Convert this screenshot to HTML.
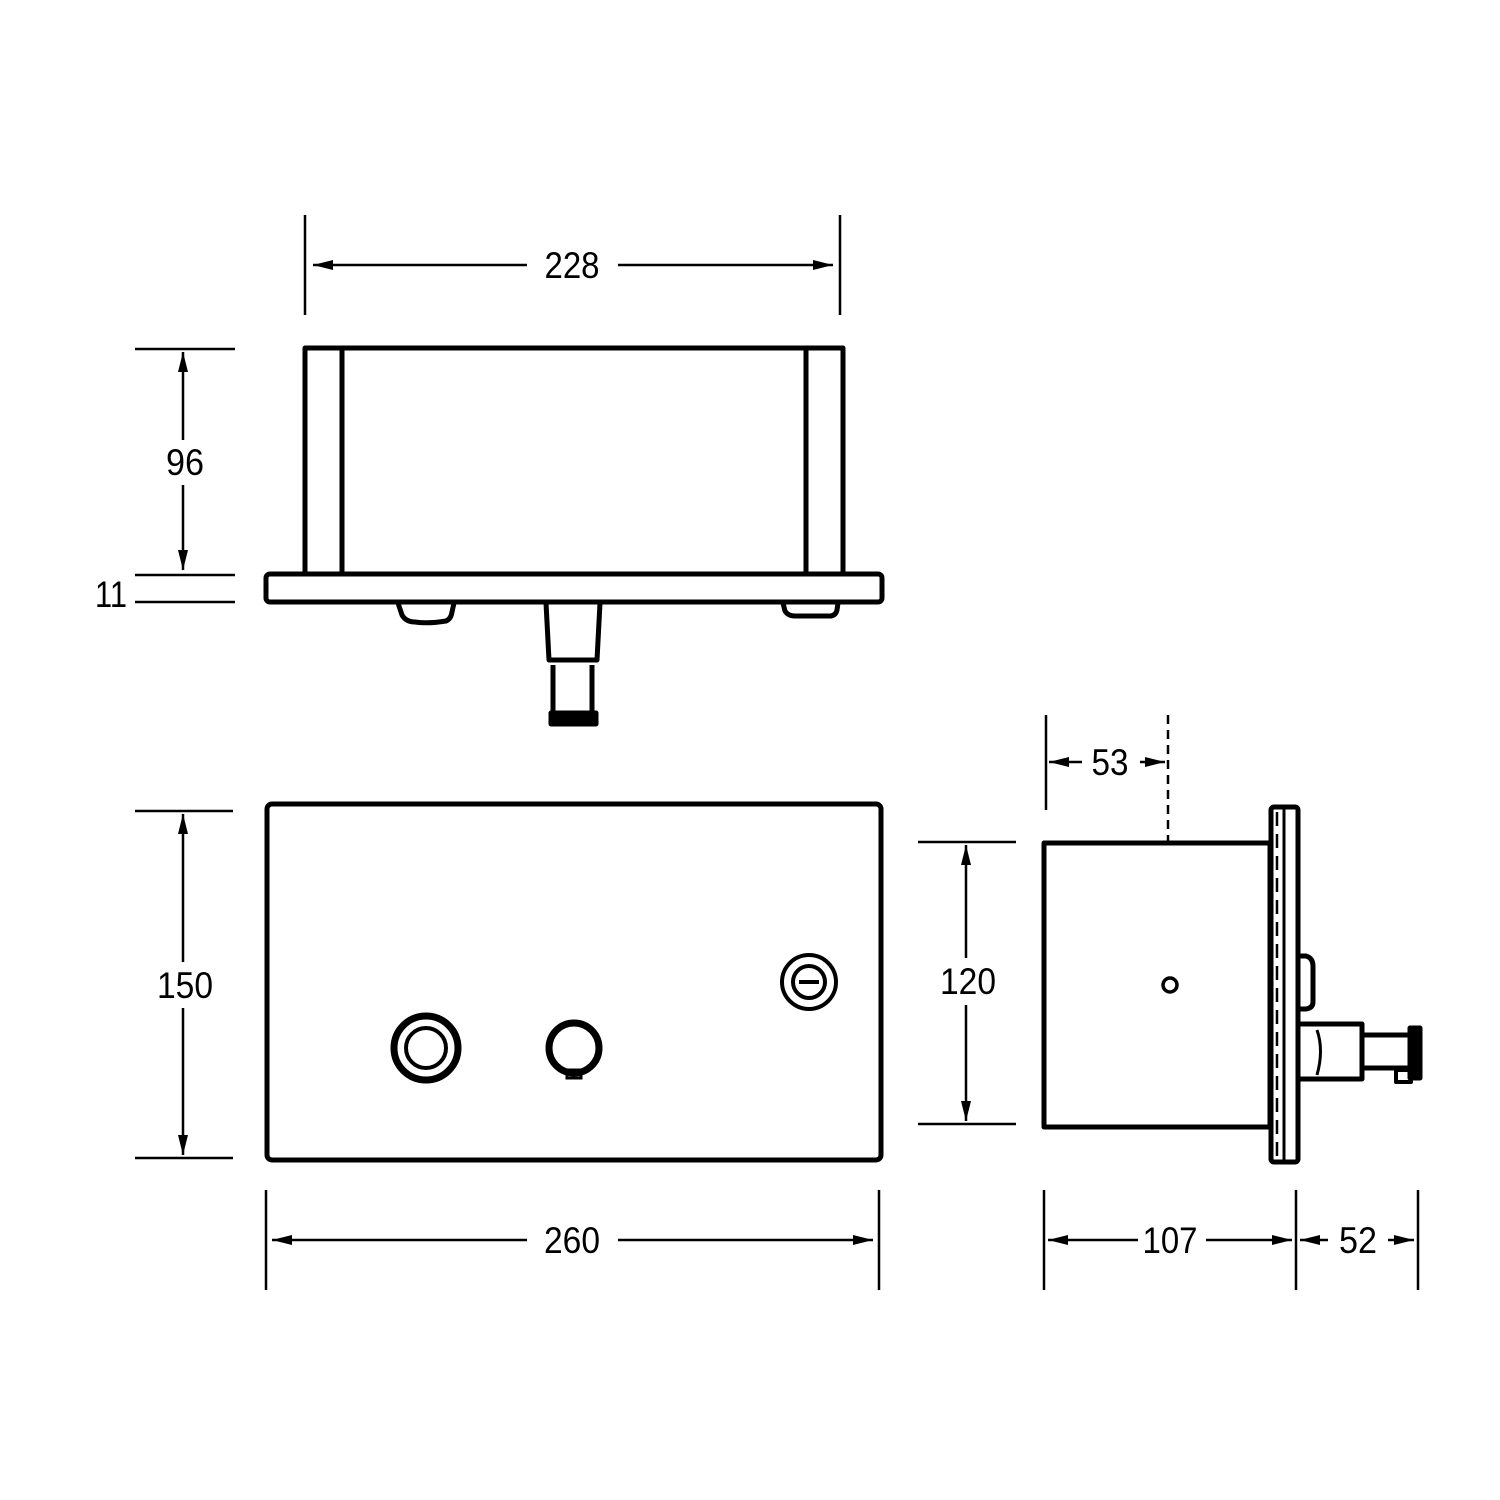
<!DOCTYPE html>
<html><head><style>html,body{margin:0;padding:0;background:#fff}svg{display:block}text{font-family:"Liberation Sans Narrow","Liberation Sans",sans-serif;font-size:37px;fill:#000;text-anchor:middle}</style></head>
<body>
<svg width="1500" height="1500" viewBox="0 0 1500 1500" xmlns="http://www.w3.org/2000/svg">
<defs>
<marker id="a" viewBox="0 0 20 10" refX="20" refY="5" markerWidth="20" markerHeight="10" markerUnits="userSpaceOnUse" orient="auto-start-reverse"><path d="M0,0 L20,5 L0,10 z" fill="#000"/></marker>
</defs>
<g stroke="#000" fill="none">
<g stroke-width="2.5">
<line x1="305" y1="215" x2="305" y2="315"/><line x1="840" y1="215" x2="840" y2="315"/>
<line x1="313" y1="265" x2="527" y2="265" marker-start="url(#a)"/><line x1="618" y1="265" x2="833" y2="265" marker-end="url(#a)"/>
<line x1="135" y1="349" x2="235" y2="349"/><line x1="135" y1="575" x2="235" y2="575"/><line x1="135" y1="602" x2="235" y2="602"/>
<line x1="183" y1="352" x2="183" y2="440" marker-start="url(#a)"/><line x1="183" y1="485" x2="183" y2="570" marker-end="url(#a)"/>
<line x1="135" y1="811" x2="233" y2="811"/><line x1="135" y1="1158" x2="233" y2="1158"/>
<line x1="183" y1="814" x2="183" y2="962" marker-start="url(#a)"/><line x1="183" y1="1008" x2="183" y2="1155" marker-end="url(#a)"/>
<line x1="266" y1="1190" x2="266" y2="1290"/><line x1="879" y1="1190" x2="879" y2="1290"/>
<line x1="272" y1="1240" x2="527" y2="1240" marker-start="url(#a)"/><line x1="618" y1="1240" x2="873" y2="1240" marker-end="url(#a)"/>
<line x1="918" y1="842" x2="1016" y2="842"/><line x1="918" y1="1124" x2="1016" y2="1124"/>
<line x1="966" y1="845" x2="966" y2="958" marker-start="url(#a)"/><line x1="966" y1="1005" x2="966" y2="1121" marker-end="url(#a)"/>
<line x1="1046" y1="715" x2="1046" y2="810"/>
<line x1="1168" y1="715" x2="1168" y2="842" stroke-dasharray="9,6"/>
<line x1="1049" y1="762" x2="1082" y2="762" marker-start="url(#a)"/><line x1="1140" y1="762" x2="1165" y2="762" marker-end="url(#a)"/>
<line x1="1044" y1="1190" x2="1044" y2="1290"/><line x1="1296" y1="1190" x2="1296" y2="1290"/><line x1="1418" y1="1190" x2="1418" y2="1290"/>
<line x1="1048" y1="1240" x2="1138" y2="1240" marker-start="url(#a)"/><line x1="1206" y1="1240" x2="1292" y2="1240" marker-end="url(#a)"/>
<line x1="1300" y1="1240" x2="1328" y2="1240" marker-start="url(#a)"/><line x1="1388" y1="1240" x2="1414" y2="1240" marker-end="url(#a)"/>
</g>
<g stroke-width="5" stroke-linejoin="round">
<rect x="305" y="348" width="538" height="226"/>
<line x1="342" y1="348" x2="342" y2="574"/><line x1="806" y1="348" x2="806" y2="574"/>
<rect x="266" y="574" width="616" height="28" rx="4"/>
<path d="M398,603 L402,615 Q406,622 415,622 Q428,624 446,621 Q451,619 452,612 L454,603"/>
<path d="M783,603 L785,611 Q788,616 795,616 L831,616 Q836,615 837,610 L838,603"/>
<path d="M546,603 L549,660 L597,660 L600,603"/>
<path d="M553,665 L553,712 M592,665 L592,712"/>
<rect x="551" y="713" width="45" height="11" fill="#000"/>
</g>
<rect x="267" y="804" width="614" height="356" rx="5" stroke-width="5"/>
<circle cx="426" cy="1048" r="32" stroke-width="7"/><circle cx="426" cy="1048" r="20" stroke-width="4"/>
<circle cx="574" cy="1048" r="25" stroke-width="7"/><rect x="567" y="1070" width="14" height="8" stroke-width="3"/>
<circle cx="809" cy="982" r="27" stroke-width="4"/><circle cx="809" cy="982" r="16" stroke-width="4"/>
<line x1="799" y1="982" x2="819" y2="982" stroke-width="4"/>
<g stroke-width="5" stroke-linejoin="round">
<rect x="1044" y="843" width="226" height="284"/>
<rect x="1271" y="807" width="27" height="355" rx="3"/>
<line x1="1284" y1="808" x2="1284" y2="1161" stroke-width="3"/>
<line x1="1277" y1="812" x2="1277" y2="1158" stroke-width="2.5" stroke-dasharray="14,8"/>
<path d="M1299,956 L1306,956 Q1313,958 1313,966 L1313,1002 Q1313,1008 1306,1009 L1299,1009"/>
<path d="M1299,1024 L1362,1024 L1362,1079 L1299,1079"/>
<path d="M1317,1030 Q1324,1050 1317,1075" stroke-width="3"/>
<path d="M1362,1035 L1410,1035 M1362,1068 L1410,1068"/>
<rect x="1410" y="1028" width="10" height="50" fill="#000"/>
<rect x="1396" y="1070" width="15" height="12" stroke-width="4"/>
</g>
<circle cx="1170" cy="985" r="7" stroke-width="3.5"/>
</g>
<text x="572" y="278" textLength="55" lengthAdjust="spacingAndGlyphs">228</text>
<text x="185" y="475" textLength="38" lengthAdjust="spacingAndGlyphs">96</text>
<text x="111" y="607" textLength="32" lengthAdjust="spacingAndGlyphs">11</text>
<text x="185" y="998" textLength="56" lengthAdjust="spacingAndGlyphs">150</text>
<text x="572" y="1253" textLength="56" lengthAdjust="spacingAndGlyphs">260</text>
<text x="968" y="994" textLength="56" lengthAdjust="spacingAndGlyphs">120</text>
<text x="1110" y="775" textLength="37" lengthAdjust="spacingAndGlyphs">53</text>
<text x="1170" y="1253" textLength="55" lengthAdjust="spacingAndGlyphs">107</text>
<text x="1358" y="1253" textLength="38" lengthAdjust="spacingAndGlyphs">52</text>
</svg>
</body></html>
